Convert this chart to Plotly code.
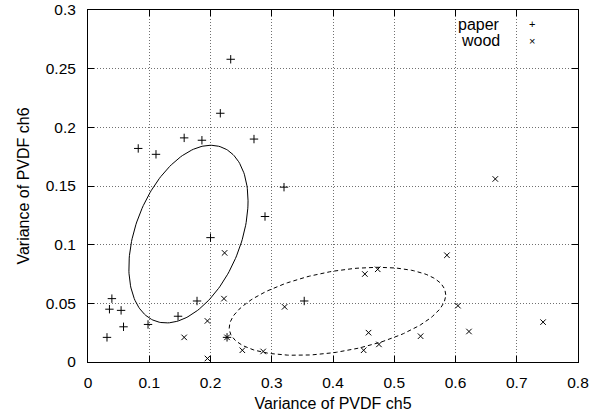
import numpy as np
import plotly.graph_objects as go

# ---- data ----
paper_x = [0.233, 0.216, 0.082, 0.111, 0.157, 0.186, 0.271, 0.200, 0.039, 0.035,
           0.054, 0.058, 0.031, 0.098, 0.178, 0.147, 0.320, 0.289, 0.353, 0.227]
paper_y = [0.258, 0.212, 0.182, 0.177, 0.191, 0.189, 0.190, 0.106, 0.054, 0.045,
           0.044, 0.030, 0.021, 0.032, 0.052, 0.039, 0.149, 0.124, 0.052, 0.021]

wood_x = [0.223, 0.222, 0.195, 0.157, 0.227, 0.252, 0.195, 0.586, 0.452, 0.473,
          0.321, 0.458, 0.475, 0.450, 0.543, 0.286, 0.665, 0.604, 0.622, 0.743]
wood_y = [0.093, 0.054, 0.035, 0.021, 0.021, 0.010, 0.003, 0.091, 0.075, 0.079,
          0.047, 0.025, 0.015, 0.010, 0.022, 0.009, 0.156, 0.048, 0.026, 0.034]

# ellipse parameters: centre x, centre y, x half-extent, y half-extent, phase (deg)
paper_ellipse = [0.164, 0.109, 0.0973, 0.0757, 68]
wood_ellipse = [0.4073, 0.0432, 0.1768, 0.0375, 68]

x_ticks = [0, 0.1, 0.2, 0.3, 0.4, 0.5, 0.6, 0.7, 0.8]
y_ticks = [0, 0.05, 0.1, 0.15, 0.2, 0.25, 0.3]
x_tick_text = ["0", "0.1", "0.2", "0.3", "0.4", "0.5", "0.6", "0.7", "0.8"]
y_tick_text = ["0", "0.05", "0.1", "0.15", "0.2", "0.25", "0.3"]


def ellipse(params, n=200):
    cx, cy, a, b, ph = params
    t = np.linspace(0, 2 * np.pi, n)
    return cx + a * np.cos(t), cy + b * np.cos(t - np.radians(ph))


FONT = "Liberation Sans, Arial, sans-serif"

fig = go.Figure()

ex, ey = ellipse(paper_ellipse)
fig.add_trace(go.Scatter(x=ex, y=ey, mode="lines", line=dict(color="black", width=1),
                         showlegend=False, hoverinfo="skip"))
ex, ey = ellipse(wood_ellipse)
fig.add_trace(go.Scatter(x=ex, y=ey, mode="lines",
                         line=dict(color="black", width=1, dash="4px,3px"),
                         showlegend=False, hoverinfo="skip"))

fig.add_trace(go.Scatter(x=paper_x, y=paper_y, mode="markers", name="paper",
                         marker=dict(symbol="cross-thin", size=6,
                                     line=dict(color="black", width=1), color="black"),
                         showlegend=False))
fig.add_trace(go.Scatter(x=wood_x, y=wood_y, mode="markers", name="wood",
                         marker=dict(symbol="x-thin", size=5.5,
                                     line=dict(color="black", width=1), color="black"),
                         showlegend=False))

# gnuplot-style key: label then sample symbol
key = [("paper", "+", 0.960), ("wood", "×", 0.913)]
for label, sym, yy in key:
    fig.add_annotation(x=0.844, y=yy, xref="paper", yref="paper", text=label,
                       showarrow=False, xanchor="right", yanchor="middle",
                       font=dict(family=FONT, size=16, color="black"))
    fig.add_annotation(x=0.907, y=yy, xref="paper", yref="paper", text=sym,
                       showarrow=False, xanchor="center", yanchor="middle",
                       font=dict(family=FONT, size=11, color="black"))

axis_common = dict(
    automargin=False,
    showline=True, linecolor="black", linewidth=1, mirror="ticks",
    ticks="inside", ticklen=6, tickcolor="black", tickwidth=1,
    showgrid=True, gridcolor="#707070", gridwidth=1, griddash="1px,2px",
    zeroline=False, tickfont=dict(family=FONT, size=15.5, color="black"),
)

fig.update_xaxes(range=[0, 0.8], tickvals=x_ticks, ticktext=x_tick_text,
                 title=dict(text="Variance of PVDF ch5", standoff=8,
                            font=dict(family=FONT, size=16, color="black")),
                 ticklabelstandoff=6, **axis_common)
fig.update_yaxes(range=[0, 0.3], tickvals=y_ticks, ticktext=y_tick_text,
                 title=dict(text="Variance of PVDF ch6", standoff=12,
                            font=dict(family=FONT, size=16, color="black")),
                 ticklabelstandoff=8, **axis_common)

fig.update_layout(width=602, height=416,
                  margin=dict(l=88, r=24, t=10, b=54, pad=0),
                  paper_bgcolor="white", plot_bgcolor="white",
                  showlegend=False, font=dict(family=FONT, color="black"))

fig.write_html("out.html",
               config={"displayModeBar": False},
               post_script="document.body.style.margin='0px';"
                           "document.body.style.overflow='hidden';")
